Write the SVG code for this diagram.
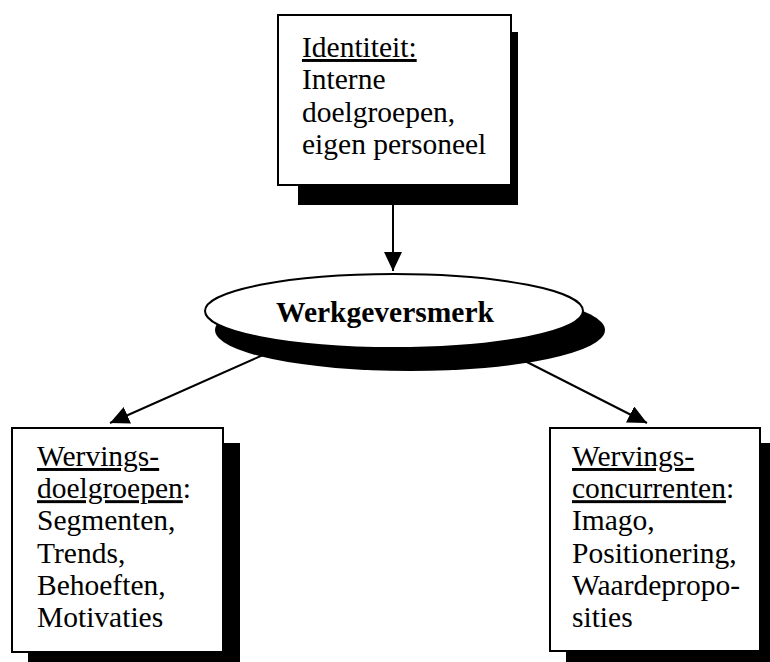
<svg xmlns="http://www.w3.org/2000/svg" width="770" height="662" viewBox="0 0 770 662">
<defs>
<style>
.box{fill:#fff;stroke:#000;stroke-width:2}
.shadow{fill:#000}
.t{font-family:"Liberation Serif","Times New Roman",serif;font-size:29.5px;fill:#000}
.b{font-weight:bold}
.u{text-decoration:underline}
.conn{stroke:#000;stroke-width:2;fill:none}
</style>
<marker id="arr" markerUnits="userSpaceOnUse" markerWidth="20" markerHeight="20" refX="19" refY="9" orient="auto">
<path d="M0,0 L19,9 L0,18 Z" fill="#000"/>
</marker>
</defs>
<rect width="770" height="662" fill="#fff"/>

<g id="connectors">
<line class="conn" x1="393" y1="205" x2="393" y2="271" marker-end="url(#arr)"/>
<line class="conn" x1="263" y1="355" x2="110" y2="423" marker-end="url(#arr)"/>
<line class="conn" x1="523" y1="360" x2="647" y2="423" marker-end="url(#arr)"/>
</g>

<g id="identiteit">
<rect class="shadow" x="298" y="32" width="220" height="173"/>
<rect class="box" x="278" y="15" width="233" height="170"/>
<text class="t" x="302" y="57"><tspan class="u">Identiteit:</tspan></text>
<text class="t" x="302" y="89.3">Interne</text>
<text class="t" x="302" y="121.6">doelgroepen,</text>
<text class="t" x="302" y="154">eigen personeel</text>
</g>

<g id="werkgeversmerk">
<ellipse class="shadow" cx="410" cy="330" rx="195" ry="41"/>
<ellipse class="box" cx="394" cy="311" rx="189" ry="37"/>
<text class="t b" x="385" y="322" text-anchor="middle">Werkgeversmerk</text>
</g>

<g id="wervingsdoelgroepen">
<rect class="shadow" x="28" y="443" width="212" height="227"/>
<rect class="box" x="12" y="428" width="211" height="224"/>
<text class="t" x="37" y="466"><tspan class="u">Wervings-</tspan></text>
<text class="t" x="37" y="498.2"><tspan class="u">doelgroepen</tspan>:</text>
<text class="t" x="37" y="530.4">Segmenten,</text>
<text class="t" x="37" y="562.6">Trends,</text>
<text class="t" x="37" y="594.8">Behoeften,</text>
<text class="t" x="37" y="627">Motivaties</text>
</g>

<g id="wervingsconcurrenten">
<rect class="shadow" x="566" y="443" width="204" height="227"/>
<rect class="box" x="550" y="428" width="210" height="223"/>
<text class="t" x="572" y="466"><tspan class="u">Wervings-</tspan></text>
<text class="t" x="572" y="498.2"><tspan class="u">concurrenten</tspan>:</text>
<text class="t" x="572" y="530.4">Imago,</text>
<text class="t" x="572" y="562.6">Positionering,</text>
<text class="t" x="572" y="594.8">Waardepropo-</text>
<text class="t" x="572" y="627">sities</text>
</g>
</svg>
